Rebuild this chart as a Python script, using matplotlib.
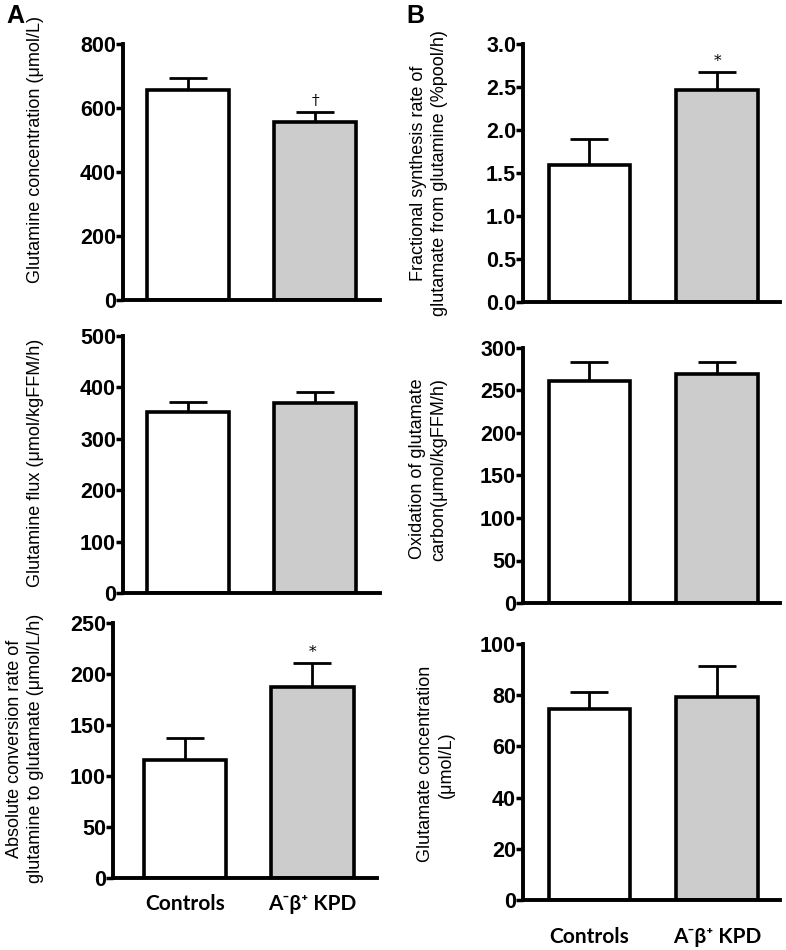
import numpy as np
import matplotlib
matplotlib.use("Agg")
import matplotlib.pyplot as plt

# group names and bar colours
groups = ["Controls", "A\u207b\u03b2\u207a KPD"]
bar_colors = ["white", "#cccccc"]

# panel A (left column)
gln_conc = [656, 555]
gln_conc_err = [37, 33]
gln_flux = [352, 370]
gln_flux_err = [19, 21]
abs_conv = [116, 187]
abs_conv_err = [21, 24]

# panel B (right column)
fsr = [1.59, 2.46]
fsr_err = [0.30, 0.21]
oxid = [261, 269]
oxid_err = [23, 14]
glu_conc = [74.5, 79.2]
glu_conc_err = [6.6, 12.3]

W, H = 786, 950
fig = plt.figure(figsize=(W / 100, H / 100), dpi=100)

tick_font = dict(family="Liberation Sans", weight="bold", size=15.5)
label_font = dict(family="Liberation Sans", size=13)
cat_font = dict(family=["Lato", "DejaVu Sans"], weight="bold", size=15)


def px_axes(left, top, right, bottom):
    return fig.add_axes([left / W, 1 - bottom / H, (right - left) / W, (bottom - top) / H])


def bar_panel(ax, vals, errs, ymax, step, ylabel, label_xy, xlim, width, mark=None, fmt="{:.0f}"):
    x = np.arange(len(vals))
    ax.bar(x, vals, width=width, color=bar_colors, edgecolor="black", linewidth=2.6, zorder=2)
    ax.errorbar(x, vals, yerr=[np.zeros(len(errs)), errs], fmt="none", ecolor="black",
                elinewidth=2, capsize=14, capthick=2, zorder=1)
    ax.set_xlim(*xlim)
    ax.set_ylim(0, ymax)
    ticks = np.arange(0, ymax + step / 2, step)
    ax.set_yticks(ticks)
    ax.set_yticklabels([fmt.format(t) for t in ticks], fontdict=tick_font)
    ax.set_xticks([])
    for s in ["top", "right"]:
        ax.spines[s].set_visible(False)
    for s in ["left", "bottom"]:
        ax.spines[s].set_linewidth(2.8)
    ax.tick_params(axis="y", direction="out", length=5, width=2.5, pad=0)
    ax.set_ylabel(ylabel, **label_font, linespacing=1.3, va="center", ha="center")
    ax.yaxis.set_label_coords(*label_xy)
    if mark is not None:
        i, sym = mark
        ax.annotate(sym, (i, vals[i] + errs[i]), xytext=(0, 3), textcoords="offset points",
                    ha="center", va="bottom", fontsize=11, family="DejaVu Serif")
    ax.patch.set_alpha(0)


# column A
ax1 = px_axes(123, 44, 380, 300)
bar_panel(ax1, gln_conc, gln_conc_err, 800, 200, "Glutamine concentration (\u03bcmol/L)",
          (-0.342, 0.586), (-0.51, 1.51), 0.64, mark=(1, "\u2020"))
ax2 = px_axes(123, 336, 380, 593)
bar_panel(ax2, gln_flux, gln_flux_err, 500, 100, "Glutamine flux (\u03bcmol/kgFFM/h)",
          (-0.342, 0.508), (-0.51, 1.51), 0.64)
ax3 = px_axes(113, 623, 377, 878)
bar_panel(ax3, abs_conv, abs_conv_err, 250, 50,
          "Absolute conversion rate of\nglutamine to glutamate (\u03bcmol/L/h)",
          (-0.333, 0.507), (-0.565, 1.506), 0.65, mark=(1, "*"))

# column B
ax4 = px_axes(523, 44, 780, 302)
bar_panel(ax4, fsr, fsr_err, 3.0, 0.5,
          "Fractional synthesis rate of\nglutamate from glutamine (%pool/h)",
          (-0.366, 0.5), (-0.52, 1.49), 0.64, mark=(1, "*"), fmt="{:.1f}")
ax5 = px_axes(523, 348, 780, 603)
bar_panel(ax5, oxid, oxid_err, 300, 50,
          "Oxidation of glutamate\ncarbon(\u03bcmol/kgFFM/h)",
          (-0.368, 0.525), (-0.52, 1.49), 0.64)
ax6 = px_axes(523, 644, 780, 900)
bar_panel(ax6, glu_conc, glu_conc_err, 100, 20,
          "Glutamate concentration\n(\u03bcmol/L)",
          (-0.34, 0.53), (-0.52, 1.49), 0.64)

# category labels under the bottom row
for ax, ypx in [(ax3, 904), (ax6, 937)]:
    for i, g in enumerate(groups):
        xd = ax.transData.transform((i, 0))[0]
        fig.text(xd / W, 1 - ypx / H, g, ha="center", va="center", **cat_font)

fig.text(6 / W, 1 - 16 / H, "A", fontsize=18, weight="bold", family="Liberation Sans", va="center")
fig.text(406 / W, 1 - 16 / H, "B", fontsize=18, weight="bold", family="Liberation Sans", va="center")

fig.savefig("out.png", dpi=100)
